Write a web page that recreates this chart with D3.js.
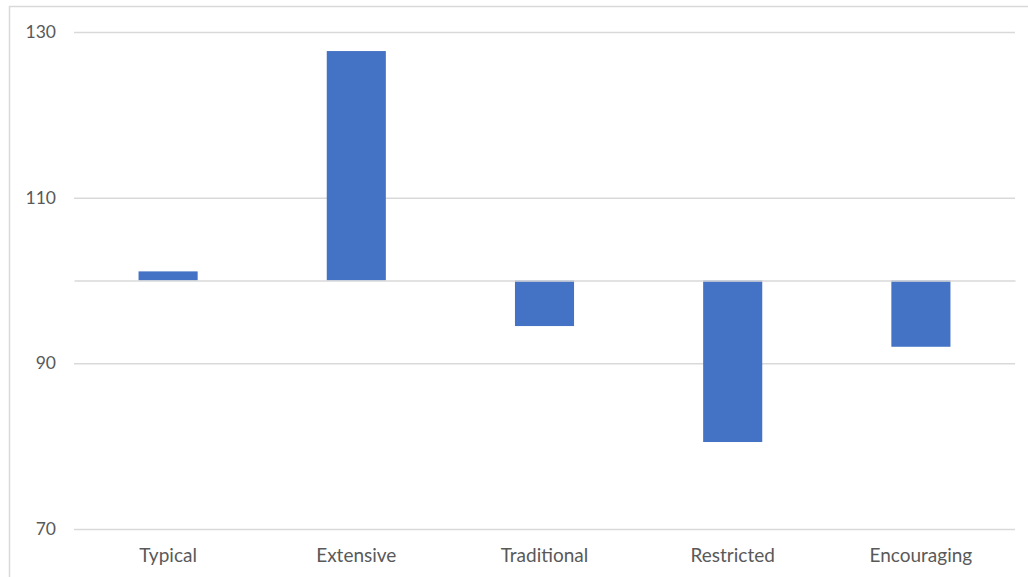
<!DOCTYPE html>
<html><head><meta charset="utf-8">
<script src="https://cdn.jsdelivr.net/npm/d3@7"></script>
<style>html,body{margin:0;padding:0;background:#fff;}svg{display:block;}</style>
</head><body>
<svg id="chart" width="1028" height="577"></svg>
<script>
const categories = ["Typical", "Extensive", "Traditional", "Restricted", "Encouraging"];
const values = [101.1, 127.7, 94.5, 80.5, 92.0];
const baseline = 100;
const yTicks = [70, 90, 110, 130];

const svg = d3.select("#chart");
const W = 1028, H = 577;
const m = {left: 74, right: 13, top: 32, bottom: 48};

// chart area border
svg.append("rect").attr("x", 9.5).attr("y", 6.5).attr("width", 1040).attr("height", 600)
  .attr("fill", "#fff").attr("stroke", "#d9d9d9").attr("stroke-width", 1.5);

const x = d3.scaleBand().domain(categories).range([m.left, W - m.right]).paddingInner(0.686).paddingOuter(0.343);
const y = d3.scaleLinear().domain([70, 130]).range([H - m.bottom, m.top]);

const font = "Lato, 'Liberation Sans', sans-serif";

// gridlines
const yAxis = d3.axisLeft(y).tickValues(yTicks).tickSize(-(W - m.right - m.left)).tickPadding(18);
const gy = svg.append("g").attr("transform", `translate(${m.left},0)`).call(yAxis);
gy.select(".domain").remove();
gy.selectAll(".tick line").attr("stroke", "#d9d9d9").attr("stroke-width", 1.5);
gy.selectAll(".tick text").attr("fill", "#595959").style("font-family", font).style("font-size", "17.5px");

// bars
svg.append("g").selectAll("rect").data(categories).join("rect")
  .attr("x", d => x(d))
  .attr("width", x.bandwidth())
  .attr("y", (d, i) => y(Math.max(values[i], baseline)))
  .attr("height", (d, i) => Math.abs(y(values[i]) - y(baseline)))
  .attr("fill", "#4472c4");

// baseline axis at 100
const xAxis = d3.axisBottom(x).tickSize(0).tickPadding(0);
const gx = svg.append("g").attr("transform", `translate(0,${y(baseline)})`).call(xAxis);
gx.select(".domain").attr("stroke", "#d9d9d9").attr("stroke-width", 1.5);
gx.selectAll(".tick text").remove();

// category labels at bottom
svg.append("g").selectAll("text").data(categories).join("text")
  .attr("x", d => x(d) + x.bandwidth() / 2)
  .attr("y", 562)
  .attr("text-anchor", "middle")
  .attr("fill", "#595959")
  .style("font-family", font).style("font-size", "19px")
  .text(d => d);
</script>
</body></html>
